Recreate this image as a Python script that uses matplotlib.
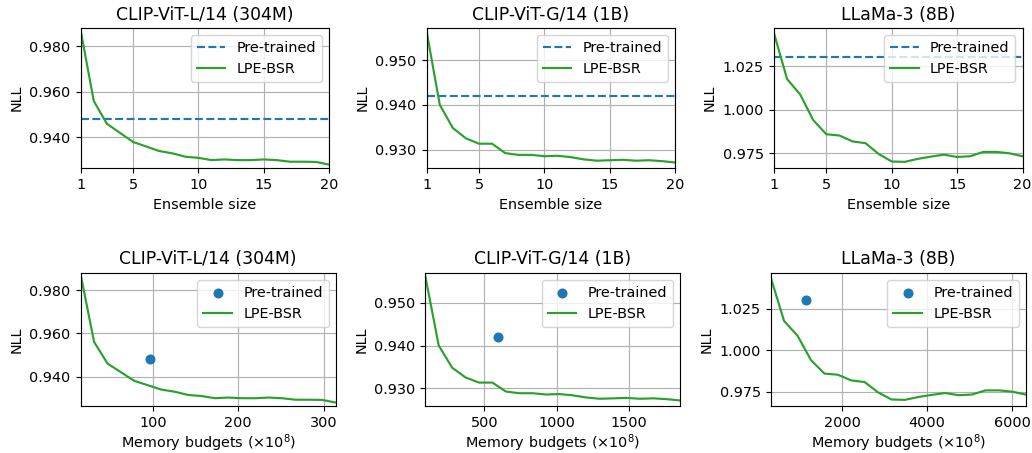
import matplotlib
matplotlib.use("Agg")
import matplotlib.pyplot as plt
from matplotlib.ticker import FormatStrFormatter

titles = ["CLIP-ViT-L/14 (304M)", "CLIP-ViT-G/14 (1B)", "LLaMa-3 (8B)"]
ensemble_size = list(range(1, 21))

nll_L = [0.987, 0.956, 0.946, 0.942, 0.938, 0.936, 0.934, 0.933, 0.9315, 0.931,
         0.930, 0.9303, 0.930, 0.930, 0.9303, 0.930, 0.9293, 0.9293, 0.9292, 0.928]
nll_G = [0.9563, 0.940, 0.9348, 0.9325, 0.9313, 0.9313, 0.9292, 0.9288, 0.9288, 0.9285,
         0.9286, 0.9283, 0.9278, 0.9275, 0.9276, 0.9277, 0.9275, 0.9276, 0.9274, 0.9271]
nll_Ll = [1.0438, 1.0175, 1.0087, 0.994, 0.9859, 0.9852, 0.9818, 0.9808, 0.9746, 0.9703,
          0.9701, 0.9718, 0.9731, 0.9742, 0.9729, 0.9733, 0.9758, 0.9758, 0.975, 0.9733]

mem_L = [15.7, 31.4, 47.1, 62.8, 78.5, 94.2, 109.9, 125.6, 141.3, 157.0,
         172.7, 188.4, 204.1, 219.8, 235.5, 251.2, 266.9, 282.6, 298.3, 314.0]
mem_G = [92.6, 185.2, 277.8, 370.4, 463.0, 555.6, 648.2, 740.8, 833.4, 926.0,
         1018.6, 1111.2, 1203.8, 1296.4, 1389.0, 1481.6, 1574.2, 1666.8, 1759.4, 1852.0]
mem_Ll = [316, 632, 948, 1264, 1580, 1896, 2212, 2528, 2844, 3160,
          3476, 3792, 4108, 4424, 4740, 5056, 5372, 5688, 6004, 6320]

pre_nll = [0.948, 0.942, 1.030]
pre_mem = [97, 592, 1140]

nlls = [nll_L, nll_G, nll_Ll]
mems = [mem_L, mem_G, mem_Ll]
ylims = [(0.9264, 0.988), (0.9258, 0.9571), (0.9664, 1.0466)]
yticks = [[0.94, 0.96, 0.98], [0.93, 0.94, 0.95], [0.975, 1.0, 1.025]]
xticks_mem = [[100, 200, 300], [500, 1000, 1500], [2000, 4000, 6000]]

W, H = 1032, 453
DPI = 103.2
fig = plt.figure(figsize=(W / DPI, H / DPI), dpi=DPI)

top_lefts = [80.7, 426.7, 774.0]
top_w = 248.5
bot_lefts = [80.7, 425.3, 770.7]
bot_w = 255.0
top_y0, top_y1 = 28.3, 168.3
bot_y0, bot_y1 = 272.7, 406.0

blue = "#1f77b4"
green = "#2ca02c"

for i in range(3):
    ax = fig.add_axes([top_lefts[i] / W, (H - top_y1) / H, top_w / W, (top_y1 - top_y0) / H])
    ax.axhline(pre_nll[i], color=blue, ls="--", lw=1.5, label="Pre-trained")
    ax.plot(ensemble_size, nlls[i], color=green, lw=1.5, label="LPE-BSR")
    ax.set_xlim(1, 20)
    ax.set_ylim(*ylims[i])
    ax.set_xticks([1, 5, 10, 15, 20])
    ax.set_yticks(yticks[i])
    ax.yaxis.set_major_formatter(FormatStrFormatter("%.3f"))
    ax.grid(True)
    ax.set_title(titles[i], fontsize=12)
    ax.set_xlabel("Ensemble size", fontsize=10)
    ax.set_ylabel("NLL", fontsize=10)
    ax.tick_params(labelsize=10)
    ax.legend(loc="upper right", fontsize=10)

    ax2 = fig.add_axes([bot_lefts[i] / W, (H - bot_y1) / H, bot_w / W, (bot_y1 - bot_y0) / H])
    ax2.scatter([pre_mem[i]], [pre_nll[i]], color=blue, s=36, label="Pre-trained", zorder=3)
    ax2.plot(mems[i], nlls[i], color=green, lw=1.5, label="LPE-BSR")
    ax2.set_xlim(mems[i][0], mems[i][-1])
    ax2.set_ylim(*ylims[i])
    ax2.set_xticks(xticks_mem[i])
    ax2.set_yticks(yticks[i])
    ax2.yaxis.set_major_formatter(FormatStrFormatter("%.3f"))
    ax2.grid(True)
    ax2.set_title(titles[i], fontsize=12)
    ax2.set_xlabel(r"Memory budgets ($\times 10^8$)", fontsize=10, labelpad=1.5)
    ax2.set_ylabel("NLL", fontsize=10)
    ax2.tick_params(labelsize=10)
    ax2.legend(loc="upper right", fontsize=10)

fig.savefig("out.png", dpi=DPI)
